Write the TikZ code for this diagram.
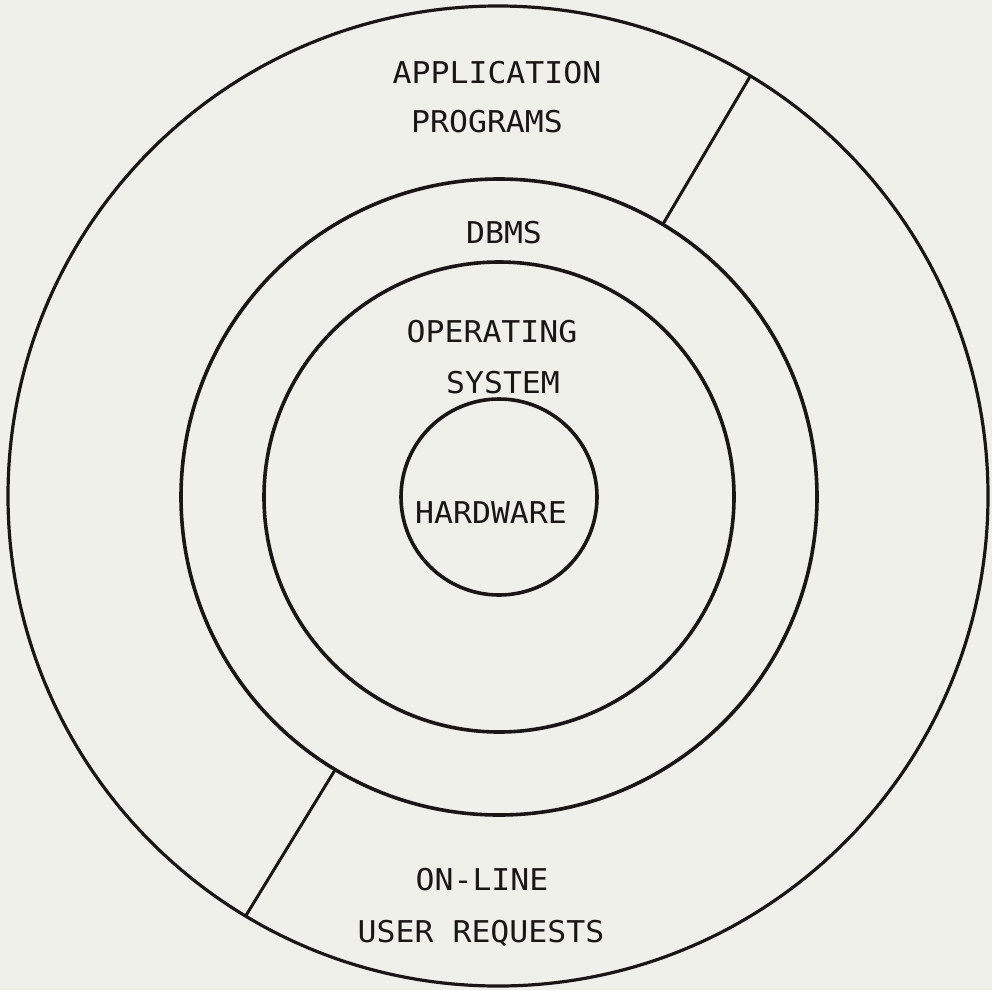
\documentclass[tikz,border=0pt]{standalone}
\usepackage{fontspec}
\newfontfamily\plotfont[FakeStretch=1.05]{DejaVu Sans Mono}
\definecolor{paper}{RGB}{240,240,235}
\definecolor{ink}{RGB}{25,22,22}
\begin{document}
\begin{tikzpicture}[x=1pt,y=-1pt,
  ring/.style={circle, draw=ink, inner sep=0pt, outer sep=0pt, line width=3.6pt},
  divider/.style={draw=ink, line width=3pt},
  label/.style={font=\plotfont\fontsize{30}{32}\selectfont, text=ink, anchor=base, inner sep=0pt}]
  \fill[paper] (0,0) rectangle (992,990);
  \useasboundingbox (0,0) rectangle (992,990);
  \node[ring, line width=3.2pt, minimum size=980pt] (outer) at (498,496) {};
  \node[ring, minimum size=636pt] (dbms) at (499,497) {};
  \node[ring, minimum size=470pt] (os) at (499,497) {};
  \node[ring, minimum size=196pt] (hw) at (499,497) {};
  \draw[divider] (dbms.59) -- (outer.59);
  \draw[divider] (dbms.239.5) -- (outer.239.5);
  \node[label] (t1) at (497,83) {APPLICATION};
  \node[label] (t2) at (487,132) {PROGRAMS};
  \node[label] (t3) at (504,243) {DBMS};
  \node[label] (t4) at (492,342) {OPERATING};
  \node[label] (t5) at (503,393) {SYSTEM};
  \node[label] (t6) at (491,523) {HARDWARE};
  \node[label] (t7) at (482,890) {ON-LINE};
  \node[label] (t8) at (481,942) {USER REQUESTS};
\end{tikzpicture}
\end{document}
